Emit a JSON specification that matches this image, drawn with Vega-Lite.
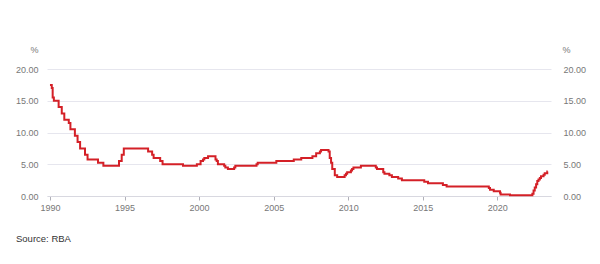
{
  "$schema": "https://vega.github.io/schema/vega-lite/v6.json",
  "autosize": "none",
  "width": 504,
  "height": 127,
  "padding": {"left": 47, "top": 69, "right": 49, "bottom": 68},
  "config": {
    "view": {"stroke": null},
    "font": "Liberation Sans, sans-serif"
  },
  "title": {
    "text": "Source: RBA",
    "orient": "bottom",
    "anchor": "start",
    "frame": "group",
    "dx": -31,
    "offset": 22,
    "fontSize": 9.5,
    "fontWeight": "normal",
    "color": "#333333"
  },
  "data": {
    "values": [
      {"t": 1990.0, "r": 17.5},
      {"t": 1990.12, "r": 17.0},
      {"t": 1990.18, "r": 15.5},
      {"t": 1990.26, "r": 15.0},
      {"t": 1990.58, "r": 14.0},
      {"t": 1990.79, "r": 13.0},
      {"t": 1990.96, "r": 12.0},
      {"t": 1991.26, "r": 11.5},
      {"t": 1991.37, "r": 10.5},
      {"t": 1991.67, "r": 9.5},
      {"t": 1991.85, "r": 8.5},
      {"t": 1992.02, "r": 7.5},
      {"t": 1992.35, "r": 6.5},
      {"t": 1992.52, "r": 5.75},
      {"t": 1993.22, "r": 5.25},
      {"t": 1993.58, "r": 4.75},
      {"t": 1994.63, "r": 5.5},
      {"t": 1994.81, "r": 6.5},
      {"t": 1994.95, "r": 7.5},
      {"t": 1996.58, "r": 7.0},
      {"t": 1996.85, "r": 6.5},
      {"t": 1996.95, "r": 6.0},
      {"t": 1997.39, "r": 5.5},
      {"t": 1997.55, "r": 5.0},
      {"t": 1998.92, "r": 4.75},
      {"t": 1999.85, "r": 5.0},
      {"t": 2000.1, "r": 5.5},
      {"t": 2000.26, "r": 5.75},
      {"t": 2000.35, "r": 6.0},
      {"t": 2000.6, "r": 6.25},
      {"t": 2001.1, "r": 5.75},
      {"t": 2001.18, "r": 5.5},
      {"t": 2001.26, "r": 5.0},
      {"t": 2001.68, "r": 4.75},
      {"t": 2001.76, "r": 4.5},
      {"t": 2001.93, "r": 4.25},
      {"t": 2002.35, "r": 4.5},
      {"t": 2002.43, "r": 4.75},
      {"t": 2003.85, "r": 5.0},
      {"t": 2003.93, "r": 5.25},
      {"t": 2005.18, "r": 5.5},
      {"t": 2006.35, "r": 5.75},
      {"t": 2006.85, "r": 6.0},
      {"t": 2007.6, "r": 6.25},
      {"t": 2007.85, "r": 6.75},
      {"t": 2008.1, "r": 7.0},
      {"t": 2008.18, "r": 7.25},
      {"t": 2008.68, "r": 7.0},
      {"t": 2008.76, "r": 6.0},
      {"t": 2008.85, "r": 5.25},
      {"t": 2008.93, "r": 4.25},
      {"t": 2009.1, "r": 3.25},
      {"t": 2009.26, "r": 3.0},
      {"t": 2009.76, "r": 3.25},
      {"t": 2009.85, "r": 3.5},
      {"t": 2009.93, "r": 3.75},
      {"t": 2010.18, "r": 4.0},
      {"t": 2010.26, "r": 4.25},
      {"t": 2010.35, "r": 4.5},
      {"t": 2010.85, "r": 4.75},
      {"t": 2011.85, "r": 4.5},
      {"t": 2011.93, "r": 4.25},
      {"t": 2012.35, "r": 3.75},
      {"t": 2012.43, "r": 3.5},
      {"t": 2012.76, "r": 3.25},
      {"t": 2012.93, "r": 3.0},
      {"t": 2013.35, "r": 2.75},
      {"t": 2013.6, "r": 2.5},
      {"t": 2015.1, "r": 2.25},
      {"t": 2015.35, "r": 2.0},
      {"t": 2016.35, "r": 1.75},
      {"t": 2016.6, "r": 1.5},
      {"t": 2019.43, "r": 1.25},
      {"t": 2019.51, "r": 1.0},
      {"t": 2019.76, "r": 0.75},
      {"t": 2020.18, "r": 0.5},
      {"t": 2020.22, "r": 0.25},
      {"t": 2020.85, "r": 0.1},
      {"t": 2022.35, "r": 0.35},
      {"t": 2022.43, "r": 0.85},
      {"t": 2022.51, "r": 1.35},
      {"t": 2022.6, "r": 1.85},
      {"t": 2022.68, "r": 2.35},
      {"t": 2022.76, "r": 2.6},
      {"t": 2022.85, "r": 2.85},
      {"t": 2022.93, "r": 3.1},
      {"t": 2023.1, "r": 3.35},
      {"t": 2023.18, "r": 3.6},
      {"t": 2023.35, "r": 3.85},
      {"t": 2023.38, "r": 3.85}
    ]
  },
  "encoding": {
    "x": {
      "field": "t",
      "type": "quantitative",
      "scale": {"domain": [1989.8, 2023.6], "nice": false, "zero": false},
      "axis": {
        "title": null,
        "values": [1990, 1995, 2000, 2005, 2010, 2015, 2020],
        "format": "d",
        "grid": false,
        "domain": true,
        "domainColor": "#d8d8e0",
        "tickColor": "#b0b0b8",
        "tickSize": 4,
        "labelColor": "#777777",
        "labelFontSize": 9,
        "labelPadding": 3
      }
    }
  },
  "layer": [
    {
      "mark": {"type": "line", "color": "#d42027", "strokeWidth": 2, "interpolate": "step-after"},
      "encoding": {
        "y": {
          "field": "r",
          "type": "quantitative",
          "scale": {"domain": [0, 20], "nice": false},
          "axis": {
            "orient": "left",
            "values": [0, 5, 10, 15, 20],
            "format": ".2f",
            "grid": true,
            "gridColor": "#e6e6ee",
            "domain": false,
            "ticks": false,
            "labelColor": "#777777",
            "labelFontSize": 9,
            "labelPadding": 9,
            "title": "%",
            "titleAngle": 0,
            "titleX": -13,
            "titleY": -20,
            "titleAlign": "center",
            "titleBaseline": "middle",
            "titleColor": "#777777",
            "titleFontSize": 9,
            "titleFontWeight": "normal"
          }
        }
      }
    },
    {
      "mark": {"type": "line", "opacity": 0},
      "encoding": {
        "y": {
          "field": "r",
          "type": "quantitative",
          "scale": {"domain": [0, 20], "nice": false},
          "axis": {
            "orient": "right",
            "values": [0, 5, 10, 15, 20],
            "format": ".2f",
            "grid": false,
            "domain": false,
            "ticks": false,
            "labelColor": "#777777",
            "labelFontSize": 9,
            "labelPadding": 12,
            "title": "%",
            "titleAngle": 0,
            "titleX": 15,
            "titleY": -20,
            "titleAlign": "center",
            "titleBaseline": "middle",
            "titleColor": "#777777",
            "titleFontSize": 9,
            "titleFontWeight": "normal"
          }
        }
      }
    }
  ],
  "resolve": {"axis": {"y": "independent"}}
}
